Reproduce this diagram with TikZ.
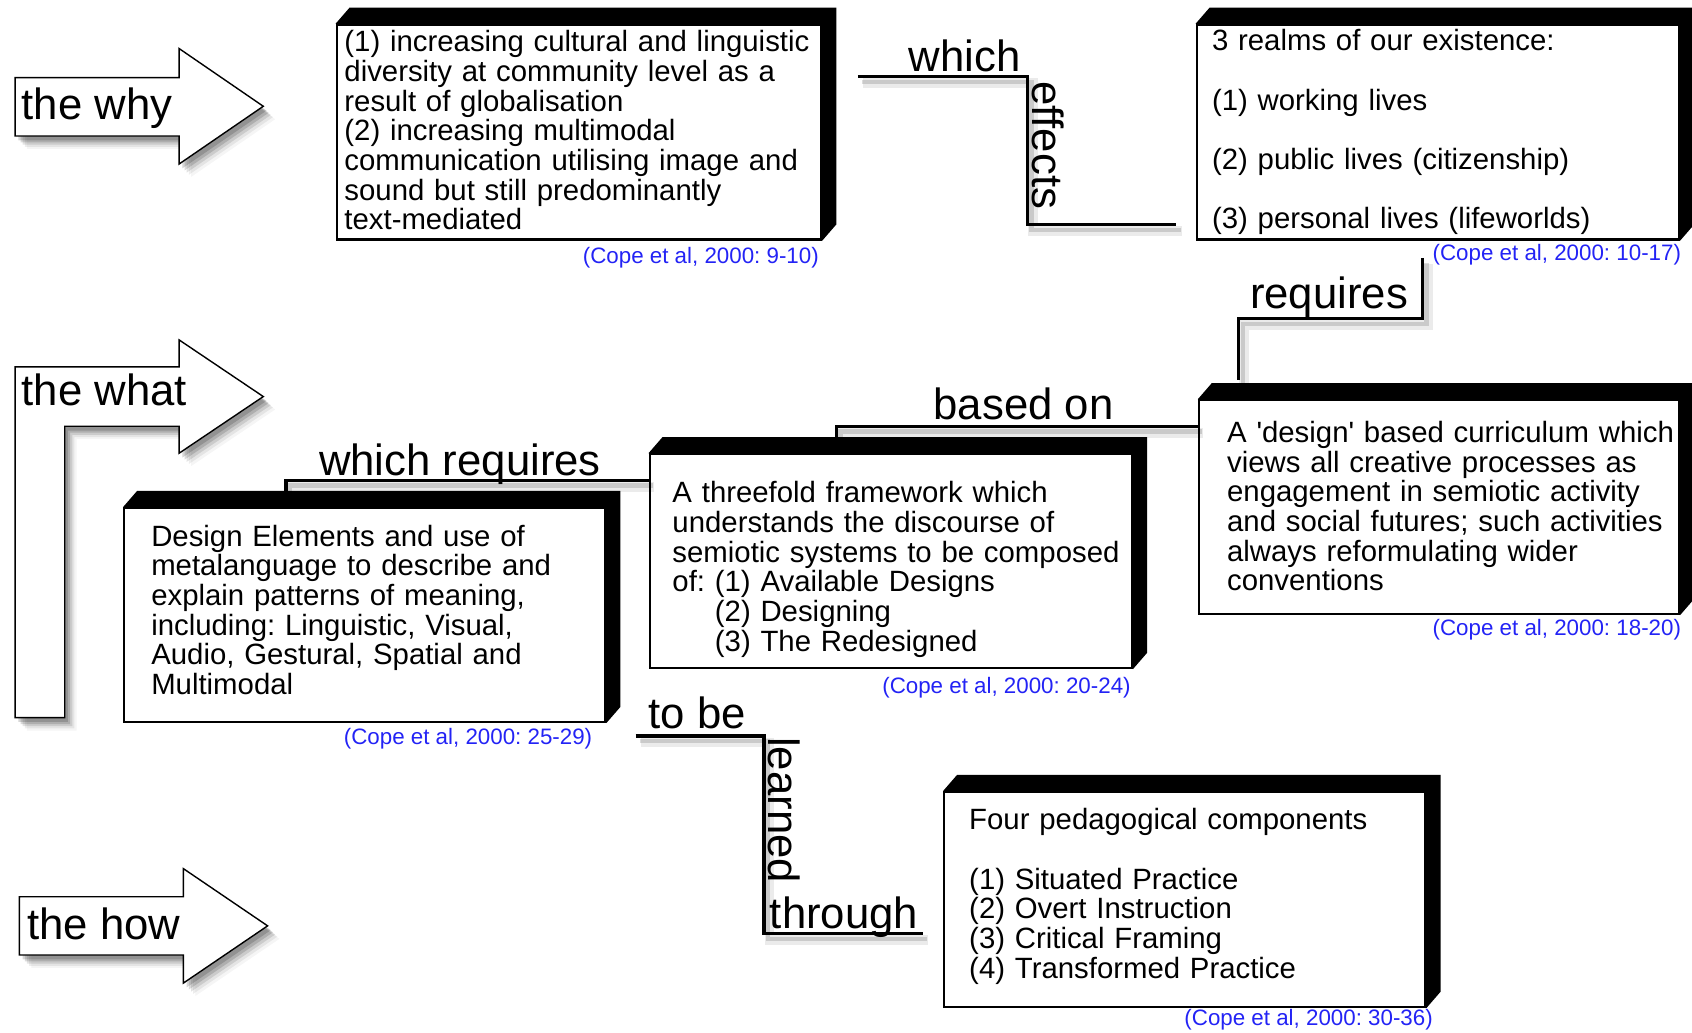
\documentclass[tikz,border=0pt]{standalone}
\usepackage{fontspec}
\setmainfont{Liberation Sans}
\usetikzlibrary{calc,backgrounds}
\definecolor{citeblue}{RGB}{35,35,245}
\frenchspacing
\newcommand\boxfont{\fontsize{27.2}{27.5}\selectfont}
\newcommand\bigfont{\fontsize{40.5}{44}\selectfont}
\newcommand\citefont{\fontsize{20.7}{22}\selectfont}
\newcommand\extrude[1]{\fill[black] (#1.north west) -- ++(13,-15) -- ($(#1.north east)+(13,-15)$) -- ($(#1.south east)+(13,-15)$) -- (#1.south east) -- cycle;}
\newcommand\connector[1]{%
  \draw[conn, black, opacity=.08, line width=9pt, transform canvas={shift={(5,6)}}] #1;
  \draw[conn, black, opacity=.14, line width=4pt, transform canvas={shift={(4,5)}}] #1;
  \draw[conn] #1;}
\tikzset{
  front/.style={draw=black, line width=2pt, fill=white, inner sep=0pt, anchor=north west},
  btext/.style={font=\boxfont, align=left, text width=440pt, inner sep=0pt, anchor=base west},
  cite/.style={font=\citefont, text=citeblue, inner sep=0pt, anchor=base east},
  biglab/.style={font=\bigfont, inner sep=0pt},
  conn/.style={line width=3pt, line join=miter, line cap=butt},
  arrowbody/.style={draw=black, line width=1.3pt, fill=white, line join=miter},
  whyarrow/.style={insert path={(14,72) -- (166,72) -- (166,45) -- (244,98.5) -- (166,152) -- (166,126) -- (14,126) -- cycle}},
  whatarrow/.style={insert path={(14,340) -- (166,340) -- (166,315) -- (244,367.5) -- (166,420) -- (166,395) -- (60,395) -- (60,665) -- (14,665) -- cycle}},
  howarrow/.style={insert path={(18,831) -- (170,831) -- (170,805) -- (248,858) -- (170,911) -- (170,885) -- (18,885) -- cycle}},
}
\begin{document}
\begin{tikzpicture}[x=1pt,y=-1pt]
\useasboundingbox (0,0) rectangle (1568,957);

% ---- arrows with soft shadows ----
\foreach \d/\o in {3/0.16,5/0.14,7/0.11,9/0.07,11/0.04} {
  \fill[black, opacity=\o, shift={(\d,\d+1)}, whyarrow];
  \fill[black, opacity=\o, shift={(\d,\d+1)}, whatarrow];
  \fill[black, opacity=\o, shift={(\d,\d+1)}, howarrow];
}
\path[arrowbody, whyarrow];
\path[arrowbody, whatarrow];
\path[arrowbody, howarrow];
\node[biglab, anchor=base west] (awhy) at (20,111) {the why};
\node[biglab, anchor=base west] (awhat) at (20,376) {the what};
\node[biglab, anchor=base west] (ahow) at (25,871) {the how};

% ---- boxes ----
\node[front, minimum width=449pt, minimum height=199pt] (b1) at (311,22) {};
\node[front, minimum width=447pt, minimum height=199pt] (b2) at (1108,22) {};
\node[front, minimum width=447pt, minimum height=198pt] (b3) at (601,420) {};
\node[front, minimum width=446pt, minimum height=198pt] (b4) at (114,470) {};
\node[front, minimum width=445pt, minimum height=198pt] (b5) at (1110,370) {};
\node[front, minimum width=446pt, minimum height=199pt] (b6) at (874,733) {};
\begin{scope}[on background layer]
  \extrude{b1}\extrude{b2}\extrude{b3}\extrude{b4}\extrude{b5}\extrude{b6}
\end{scope}

\node[btext] (t1) at (319,48) {(1) increasing cultural and linguistic\\ diversity at community level as a\\ result of globalisation\\ (2) increasing multimodal\\ communication utilising image and\\ sound but still predominantly\\ text-mediated};
\node[btext] (t2) at (1123,47) {3 realms of our existence:\\[27.5pt] (1) working lives\\[27.5pt] (2) public lives (citizenship)\\[27.5pt] (3) personal lives (lifeworlds)};
\node[btext] (t3) at (623,466) {A threefold framework which\\ understands the discourse of\\ semiotic systems to be composed\\ of: (1) Available Designs\\ \hphantom{of: }(2) Designing\\ \hphantom{of: }(3) The Redesigned};
\node[btext] (t4) at (140,506) {Design Elements and use of\\ metalanguage to describe and\\ explain patterns of meaning,\\ including: Linguistic, Visual,\\ Audio, Gestural, Spatial and\\ Multimodal};
\node[btext] (t5) at (1137,410) {A \textquotesingle design\textquotesingle{} based curriculum which\\ views all creative processes as\\ engagement in semiotic activity\\ and social futures; such activities\\ always reformulating wider\\ conventions};
\node[btext] (t6) at (898,769) {Four pedagogical components\\[27.5pt] (1) Situated Practice\\ (2) Overt Instruction\\ (3) Critical Framing\\ (4) Transformed Practice};

\node[cite] (c1) at (759,244) {(Cope et al, 2000: 9-10)};
\node[cite] (c2) at (1558,241) {(Cope et al, 2000: 10-17)};
\node[cite] (c3) at (1048,643) {(Cope et al, 2000: 20-24)};
\node[cite] (c4) at (549,690) {(Cope et al, 2000: 25-29)};
\node[cite] (c5) at (1558,589) {(Cope et al, 2000: 18-20)};
\node[cite] (c6) at (1328,950) {(Cope et al, 2000: 30-36)};

% ---- connector end points ----
\coordinate (k1s) at ($(b1.north east)+(33,49)$);
\coordinate (k1e) at ($(b2.south west)+(-18,-15)$);
\coordinate (k2s) at ($(b2.south west)+(210,16)$);
\coordinate (k2e) at ($(b5.north west)+(38,-18)$);
\coordinate (k3s) at ($(b5.north west)+(0,25)$);
\coordinate (k3e) at ($(b3.north west)+(174,-15)$);
\coordinate (k4s) at ($(b3.north west)+(0,25)$);
\coordinate (k4e) at ($(b4.north west)+(151,-15)$);
\coordinate (k5s) at ($(b4.south east)+(27,12)$);
\coordinate (k5e) at ($(b6.north west)+(-19,132)$);

\connector{(k1s) -- ++(157,0) |- (k1e)}
\connector{(k2s) -- ++(0,56) -| (k2e)}
\connector{(k3s) -| (k3e)}
\connector{(k4s) -| (k4e)}
\connector{(k5s) -- ++(119,0) |- (k5e)}

% ---- connector labels ----
\node[biglab, anchor=base east] (lwhich) at (946,66) {which};
\node[biglab, anchor=base west, rotate=-90] (leffects) at (957,75) {effects};
\node[biglab, anchor=base east] (lreq) at (1305,286) {requires};
\node[biglab, anchor=base east] (lbased) at (1032,389) {based on};
\node[biglab, anchor=base east] (lwreq) at (557,441) {which requires};
\node[biglab, anchor=base west] (ltobe) at (601,675) {to be};
\node[biglab, anchor=base west, rotate=-90] (llearned) at (712,683) {learned};
\node[biglab, anchor=base east] (lthrough) at (851,860) {through};
\end{tikzpicture}
\end{document}
